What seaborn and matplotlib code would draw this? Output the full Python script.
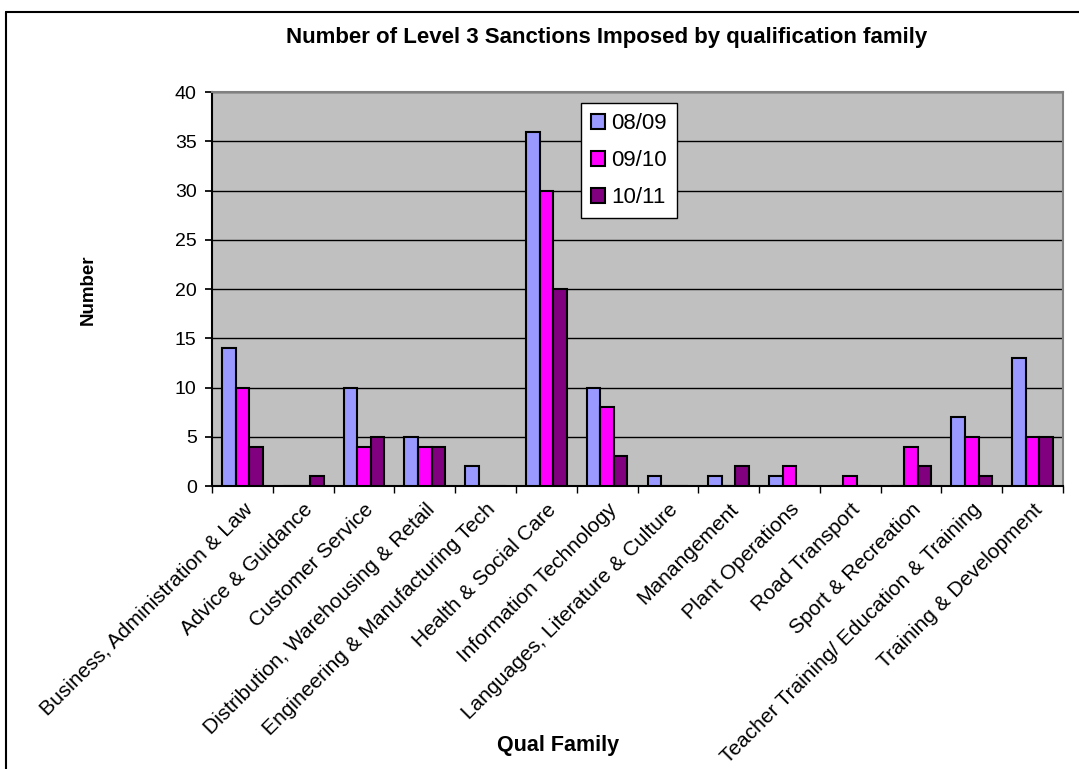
import pandas as pd
import numpy as np
import matplotlib
matplotlib.use('Agg')
import matplotlib.pyplot as plt
import seaborn as sns
from matplotlib.lines import Line2D

# =====================================================================
# 데이터
# =====================================================================
families = [
    'Business, Administration & Law', 'Advice & Guidance', 'Customer Service',
    'Distribution, Warehousing & Retail', 'Engineering & Manufacturing Tech',
    'Health & Social Care', 'Information Technology', 'Languages, Literature & Culture',
    'Manangement', 'Plant Operations', 'Road Transport', 'Sport & Recreation',
    'Teacher Training/ Education & Training', 'Training & Development',
]
years = ['08/09', '09/10', '10/11']
y0809 = [14, 0, 10, 5, 2, 36, 10, 1, 1, 1, 0, 0, 7, 13]
y0910 = [10, 0, 4, 4, 0, 30, 8, 0, 0, 2, 1, 4, 5, 5]
y1011 = [4, 1, 5, 4, 0, 20, 3, 0, 2, 0, 0, 2, 1, 5]
colors = ['#9999FF', '#FF00FF', '#800080']

df = pd.DataFrame({'family': families, '08/09': y0809, '09/10': y0910, '10/11': y1011})
long_df = df.melt(id_vars='family', var_name='year', value_name='count')

# =====================================================================
# 스타일
# =====================================================================
sns.set_theme(style='white')
plt.rcParams['font.family'] = ['Liberation Sans', 'DejaVu Sans']
plt.rcParams['text.color'] = 'black'
plt.rcParams['xtick.color'] = 'black'
plt.rcParams['ytick.color'] = 'black'

fig = plt.figure(figsize=(10.79, 7.69), dpi=100)
ax = fig.add_axes([0.1965, 0.368, 0.7887, 0.512])
ax.set_facecolor('#C0C0C0')

sns.barplot(data=long_df, x='family', y='count', hue='year', order=families,
            hue_order=years, palette=colors, width=0.67, edgecolor='black',
            linewidth=1.5, saturation=1, ax=ax, zorder=3)

ax.set_ylim(0, 40)
ax.set_xlim(-0.5, len(families) - 0.5)
ax.set_yticks(np.arange(0, 41, 5))
ax.yaxis.grid(True, color='black', linewidth=1.0)
ax.set_axisbelow(True)
for sp in ax.spines.values():
    sp.set_color('#808080')
    sp.set_linewidth(1.5)
ax.spines['left'].set_color('black')
ax.spines['bottom'].set_color('black')

ax.tick_params(axis='y', labelsize=14, length=5, direction='out', left=True, color='black', pad=6)
ax.set_xticks(range(len(families)))
ax.set_xticklabels(families, rotation=45, ha='right', rotation_mode='anchor', fontsize=15)
ax.tick_params(axis='x', which='major', length=0, pad=10)
ax.set_xticks(np.arange(-0.5, len(families), 1), minor=True)
ax.tick_params(axis='x', which='minor', length=5, direction='out', bottom=True, color='black')

ax.set_xlabel('')
ax.set_ylabel('')
fig.text(0.0815, 0.623, 'Number', rotation=90, ha='center', va='center',
         fontsize=13.5, fontweight='bold')
fig.text(0.517, 0.031, 'Qual Family', ha='center', va='center', fontsize=15.5, fontweight='bold')
fig.text(0.5625, 0.951, 'Number of Level 3 Sanctions Imposed by qualification family',
         ha='center', va='center', fontsize=16, fontweight='bold')

leg = ax.legend(loc='upper left', bbox_to_anchor=(0.434, 0.972), fontsize=16,
                frameon=True, fancybox=False, edgecolor='black', facecolor='white',
                framealpha=1, handlelength=0.6, handleheight=0.6, handletextpad=0.3,
                labelspacing=0.72, borderpad=0.45, borderaxespad=0)
leg.get_frame().set_linewidth(1.0)

# 바깥 테두리 (왼쪽, 위쪽)
fig.add_artist(Line2D([6 / 1079, 6 / 1079], [0, 1 - 12 / 769], color='black', linewidth=1.5,
                      transform=fig.transFigure))
fig.add_artist(Line2D([6 / 1079, 1], [1 - 12 / 769, 1 - 12 / 769], color='black', linewidth=1.5,
                      transform=fig.transFigure))

plt.savefig('out.png', dpi=100)
